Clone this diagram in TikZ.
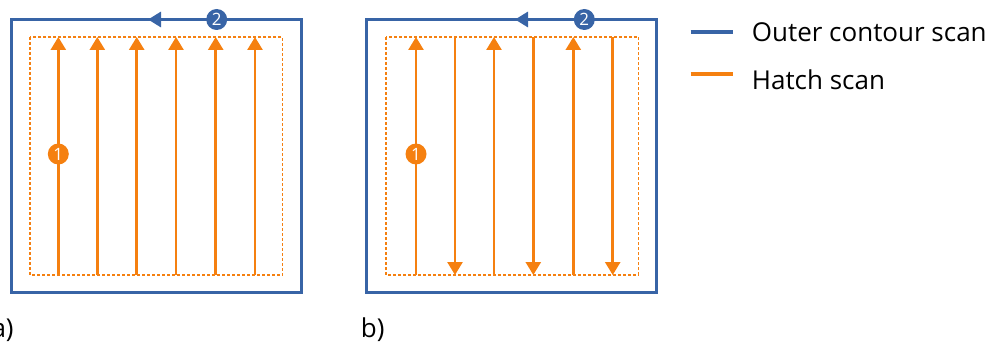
\documentclass[tikz,border=0pt]{standalone}
\usepackage{fontspec}
\setmainfont{Open Sans}
\usetikzlibrary{arrows.meta,positioning}
\definecolor{contourblue}{RGB}{56,100,166}
\definecolor{hatchorange}{RGB}{245,128,16}
\tikzset{
  contour/.style={draw=contourblue,line width=3pt},
  contourdir/.style={contourblue,line width=3pt,-{Triangle[length=13pt,width=15pt]}},
  hatchbox/.style={draw=hatchorange,line width=1.4pt,dash pattern=on 3pt off 2pt},
  hatchline/.style={hatchorange,line width=2.6pt},
  hatchdir/.style={hatchline,-{Triangle[length=13pt,width=15pt]}},
  scanmark/.style={circle,fill=#1,text=white,minimum size=21pt,inner sep=0pt,font=\fontsize{17}{17}\selectfont},
  legline/.style={line width=4pt},
  legtext/.style={anchor=base west,inner sep=0pt,font=\fontsize{26}{30}\selectfont},
  panellab/.style={anchor=base west,inner sep=0pt,font=\fontsize{26}{30}\selectfont}
}
\begin{document}
\begin{tikzpicture}[x=1pt,y=-1pt]
  \useasboundingbox (0,0) rectangle (993,345);
  % a) all hatch vectors upwards
  \draw[contour] (11,19.5) rectangle (301,292.5);
  \draw[hatchbox] (30,37) rectangle (282.7,275);
  \draw[hatchdir] (58.3,275) -- (58.3,37);
  \draw[hatchdir] (97.3,275) -- (97.3,37);
  \draw[hatchdir] (136.7,275) -- (136.7,37);
  \draw[hatchdir] (176,275) -- (176,37);
  \draw[hatchdir] (215.7,275) -- (215.7,37);
  \draw[hatchdir] (255,275) -- (255,37);
  \draw[contourdir] (162,19.5) -- (148,19.5);
  \node[scanmark=hatchorange] (hatchA) at (58.3,154) {1};
  \node[scanmark=contourblue] (contourA) at (216.7,19.5) {2};
  \node[panellab] (labA) at (-8.7,337.5) {a)};
  % b) alternating hatch vectors
  \draw[contour] (366.7,19.5) rectangle (656.7,292.5);
  \draw[hatchbox] (386,37) rectangle (638.3,275);
  \draw[hatchdir] (416,275) -- (416,37);
  \draw[hatchdir] (455,37) -- (455,275);
  \draw[hatchdir] (494,275) -- (494,37);
  \draw[hatchdir] (533.3,37) -- (533.3,275);
  \draw[hatchdir] (573.3,275) -- (573.3,37);
  \draw[hatchdir] (612.7,37) -- (612.7,275);
  \draw[contourdir] (529,19.5) -- (515,19.5);
  \node[scanmark=hatchorange] (hatchB) at (416,154) {1};
  \node[scanmark=contourblue] (contourB) at (584.3,19.5) {2};
  \node[panellab] (labB) at (360.7,337.5) {b)};
  % legend
  \coordinate (outerL) at (690.7,31.7);
  \coordinate (outerR) at (732.7,31.7);
  \coordinate (hatchL) at (690.7,74);
  \coordinate (hatchR) at (732.7,74);
  \draw[legline,contourblue] (outerL) -- (outerR);
  \draw[legline,hatchorange] (hatchL) -- (hatchR);
  \node[legtext] (legouter) at (751.7,42) {Outer contour scan};
  \node[legtext] (leghatch) at (751.7,89) {Hatch scan};
\end{tikzpicture}
\end{document}
